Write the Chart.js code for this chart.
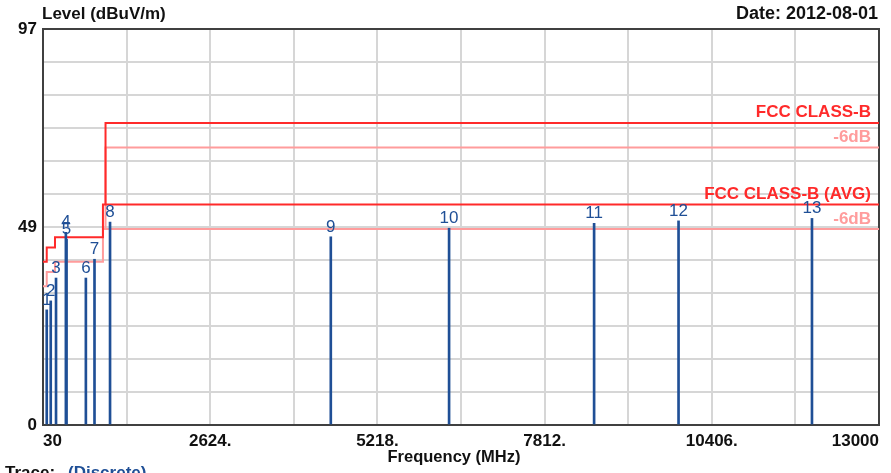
<!DOCTYPE html>
<html>
<head>
<meta charset="utf-8">
<script src="https://cdn.jsdelivr.net/npm/chart.js@4.4.1/dist/chart.umd.min.js"></script>
<style>
  html, body { margin: 0; padding: 0; background: #fff; }
</style>
</head>
<body>
<canvas id="chart" width="891" height="473"></canvas>
<script>
// emission markers: frequency (MHz) and level (dBuV/m)
var markerNames = ["1", "2", "3", "4", "5", "6", "7", "8", "9", "10", "11", "12", "13"];
var markerFreqs = [88, 150, 232, 385, 395, 695, 829, 1070, 4495, 6330, 8580, 9890, 11960];
var markerLevels = [28.2, 30.4, 36, 47.2, 45.5, 36, 40.6, 49.7, 46.1, 48.2, 49.4, 50.0, 50.6];

// FCC class B limit (stepped: each level holds from its frequency to the next one)
var limitFreqs = [30, 88, 216, 960, 1000, 13000];
var limitLevels = [40, 43.5, 46, 54, 74, 74];
var limit6Levels = [34, 37.5, 40, 48, 68, 68];

// FCC class B average limit above 1 GHz
var avgFreqs = [1000, 13000];
var avgLevels = [54, 54];
var avg6Levels = [48, 48];

var xTickLabels = ["30", "", "2624.", "", "5218.", "", "7812.", "", "10406.", "", "13000"];
var yTickLabels = ["0", "", "", "", "", "", "49", "", "", "", "", "", "97"];

var RED = "#ff2a2a";
var PINK = "#ff9c9c";
var BLUE = "#1f4f96";
var FONT = "'Liberation Sans', Arial, sans-serif";

function toPoints(xs, ys) {
  return xs.map(function(x, i) { return { x: x, y: ys[i] }; });
}

function limitLine(xs, ys, color) {
  return {
    type: "line",
    data: toPoints(xs, ys),
    borderColor: color,
    borderWidth: 2,
    pointRadius: 0,
    stepped: "before",
    fill: false
  };
}

var decor = {
  id: "decor",
  beforeDatasetsDraw: function(chart) {
    var a = chart.chartArea, ctx = chart.ctx;
    ctx.save();
    ctx.strokeStyle = "#404040";
    ctx.lineWidth = 2;
    ctx.strokeRect(a.left, a.top, a.right - a.left, a.bottom - a.top);
    ctx.restore();
  },
  afterDatasetsDraw: function(chart) {
    var ctx = chart.ctx, y = chart.scales.y;
    ctx.save();

    // marker numbers above each line
    var meta = chart.getDatasetMeta(0);
    ctx.font = "17px " + FONT;
    ctx.fillStyle = BLUE;
    ctx.textAlign = "center";
    ctx.textBaseline = "alphabetic";
    meta.data.forEach(function(el, i) {
      ctx.fillText(markerNames[i], el.x, el.y - 5);
    });

    // limit labels
    var right = chart.chartArea.right - 8;
    ctx.textAlign = "right";
    ctx.font = "bold 17px " + FONT;
    ctx.fillStyle = RED;
    ctx.fillText("FCC CLASS-B", right, y.getPixelForValue(limitLevels[4]) - 5.5);
    ctx.fillText("FCC CLASS-B (AVG)", right, y.getPixelForValue(avgLevels[0]) - 5.5);
    ctx.fillStyle = PINK;
    ctx.fillText("-6dB", right, y.getPixelForValue(limit6Levels[4]) - 5.5);
    ctx.fillText("-6dB", right, y.getPixelForValue(avg6Levels[0]) - 5.5);
    ctx.restore();
  },
  afterDraw: function(chart) {
    var ctx = chart.ctx;
    ctx.save();
    ctx.fillStyle = "#111";
    ctx.textBaseline = "alphabetic";
    ctx.font = "bold 17px " + FONT;
    ctx.textAlign = "left";
    ctx.fillText("Level (dBuV/m)", 42, 19);
    ctx.textAlign = "right";
    ctx.font = "bold 18px " + FONT;
    ctx.fillText("Date: 2012-08-01", 878, 19);
    ctx.textAlign = "center";
    ctx.font = "bold 16.5px " + FONT;
    ctx.fillText("Frequency (MHz)", 454, 462);
    ctx.textAlign = "left";
    ctx.font = "bold 17px " + FONT;
    ctx.fillText("Trace:", 5, 478);
    ctx.fillStyle = BLUE;
    ctx.fillText("(Discrete)", 68, 478);
    ctx.restore();
  }
};

var ctx = document.getElementById("chart").getContext("2d");
new Chart(ctx, {
  type: "line",
  data: {
    datasets: [
      {
        type: "bar",
        data: toPoints(markerFreqs, markerLevels),
        backgroundColor: BLUE,
        borderWidth: 0,
        barThickness: 2
      },
      limitLine(limitFreqs, limitLevels, RED),
      limitLine(avgFreqs, avgLevels, RED),
      limitLine(limitFreqs, limit6Levels, PINK),
      limitLine(avgFreqs, avg6Levels, PINK)
    ]
  },
  options: {
    responsive: false,
    animation: false,
    devicePixelRatio: 1,
    layout: { padding: { top: 29, right: 12, left: 0, bottom: 0 } },
    plugins: {
      legend: { display: false },
      tooltip: { enabled: false }
    },
    scales: {
      x: {
        type: "linear",
        min: 30,
        max: 13000,
        offset: false,
        grid: { color: "#d6d6d6", lineWidth: 2, drawTicks: false, offset: false },
        border: { display: false },
        ticks: {
          stepSize: 1297,
          maxTicksLimit: 20,
          autoSkip: false,
          maxRotation: 0,
          align: "inner",
          padding: 6,
          color: "#111",
          font: { family: FONT, size: 17, weight: "bold" },
          callback: function(v, i) { return xTickLabels[i]; }
        },
        afterFit: function(scale) {
          scale.height = 48;
          scale.paddingLeft = 0;
          scale.paddingRight = 0;
        }
      },
      y: {
        min: 0,
        max: 97,
        grid: { color: "#d6d6d6", lineWidth: 2, drawTicks: false },
        border: { display: false },
        ticks: {
          stepSize: 97 / 12,
          maxTicksLimit: 20,
          autoSkip: false,
          padding: 6,
          color: "#111",
          font: { family: FONT, size: 17, weight: "bold" },
          callback: function(v, i) { return yTickLabels[i]; }
        },
        afterFit: function(scale) { scale.width = 43; }
      }
    }
  },
  plugins: [decor]
});
</script>
</body>
</html>
